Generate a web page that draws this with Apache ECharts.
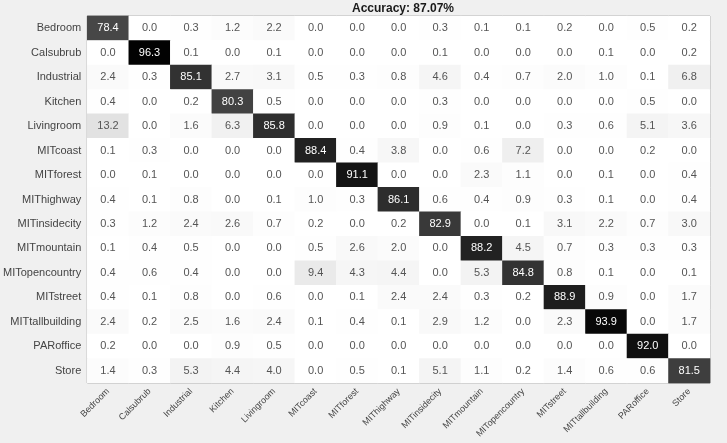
<!DOCTYPE html>
<html>
<head>
<meta charset="utf-8">
<script src="https://cdn.jsdelivr.net/npm/echarts@6/dist/echarts.min.js"></script>
<style>
html,body{margin:0;padding:0;background:#f0f0f0;}
#chart{width:727px;height:443px;}
</style>
</head>
<body>
<div id="chart"></div>
<script>
const categories = ["Bedroom","Calsubrub","Industrial","Kitchen","Livingroom","MITcoast","MITforest","MIThighway","MITinsidecity","MITmountain","MITopencountry","MITstreet","MITtallbuilding","PARoffice","Store"];
const titleText = "Accuracy: 87.07%";

const rowBedroom        = [78.4, 0.0, 0.3, 1.2, 2.2, 0.0, 0.0, 0.0, 0.3, 0.1, 0.1, 0.2, 0.0, 0.5, 0.2];
const rowCalsubrub      = [0.0, 96.3, 0.1, 0.0, 0.1, 0.0, 0.0, 0.0, 0.1, 0.0, 0.0, 0.0, 0.1, 0.0, 0.2];
const rowIndustrial     = [2.4, 0.3, 85.1, 2.7, 3.1, 0.5, 0.3, 0.8, 4.6, 0.4, 0.7, 2.0, 1.0, 0.1, 6.8];
const rowKitchen        = [0.4, 0.0, 0.2, 80.3, 0.5, 0.0, 0.0, 0.0, 0.3, 0.0, 0.0, 0.0, 0.0, 0.5, 0.0];
const rowLivingroom     = [13.2, 0.0, 1.6, 6.3, 85.8, 0.0, 0.0, 0.0, 0.9, 0.1, 0.0, 0.3, 0.6, 5.1, 3.6];
const rowMITcoast       = [0.1, 0.3, 0.0, 0.0, 0.0, 88.4, 0.4, 3.8, 0.0, 0.6, 7.2, 0.0, 0.0, 0.2, 0.0];
const rowMITforest      = [0.0, 0.1, 0.0, 0.0, 0.0, 0.0, 91.1, 0.0, 0.0, 2.3, 1.1, 0.0, 0.1, 0.0, 0.4];
const rowMIThighway     = [0.4, 0.1, 0.8, 0.0, 0.1, 1.0, 0.3, 86.1, 0.6, 0.4, 0.9, 0.3, 0.1, 0.0, 0.4];
const rowMITinsidecity  = [0.3, 1.2, 2.4, 2.6, 0.7, 0.2, 0.0, 0.2, 82.9, 0.0, 0.1, 3.1, 2.2, 0.7, 3.0];
const rowMITmountain    = [0.1, 0.4, 0.5, 0.0, 0.0, 0.5, 2.6, 2.0, 0.0, 88.2, 4.5, 0.7, 0.3, 0.3, 0.3];
const rowMITopencountry = [0.4, 0.6, 0.4, 0.0, 0.0, 9.4, 4.3, 4.4, 0.0, 5.3, 84.8, 0.8, 0.1, 0.0, 0.1];
const rowMITstreet      = [0.4, 0.1, 0.8, 0.0, 0.6, 0.0, 0.1, 2.4, 2.4, 0.3, 0.2, 88.9, 0.9, 0.0, 1.7];
const rowMITtallbuilding= [2.4, 0.2, 2.5, 1.6, 2.4, 0.1, 0.4, 0.1, 2.9, 1.2, 0.0, 2.3, 93.9, 0.0, 1.7];
const rowPARoffice      = [0.2, 0.0, 0.0, 0.9, 0.5, 0.0, 0.0, 0.0, 0.0, 0.0, 0.0, 0.0, 0.0, 92.0, 0.0];
const rowStore          = [1.4, 0.3, 5.3, 4.4, 4.0, 0.0, 0.5, 0.1, 5.1, 1.1, 0.2, 1.4, 0.6, 0.6, 81.5];

const matrix = [rowBedroom,rowCalsubrub,rowIndustrial,rowKitchen,rowLivingroom,rowMITcoast,rowMITforest,rowMIThighway,rowMITinsidecity,rowMITmountain,rowMITopencountry,rowMITstreet,rowMITtallbuilding,rowPARoffice,rowStore];

const data = [];
matrix.forEach((row, y) => {
  row.forEach((v, x) => {
    data.push({value: [x, y, v], label: {color: v > 50 ? '#ffffff' : '#555555'}});
  });
});

// grey ramp stops every 5 units from 0 to 100
const greyLevels = [255,244,233,222,210,198,186,174,162,150,138,126,114,102,90,79,67,50,25,3,0];
const greyColors = greyLevels.map(g => 'rgb(' + g + ',' + g + ',' + g + ')');

const chart = echarts.init(document.getElementById('chart'), null, {renderer: 'canvas'});
chart.setOption({
  backgroundColor: '#f0f0f0',
  animation: false,
  textStyle: {fontFamily: 'Liberation Sans, Arial, sans-serif'},
  title: {
    text: titleText,
    left: 398, top: -2,
    textAlign: 'center',
    textStyle: {fontSize: 12, fontWeight: 'bold', color: '#1a1a1a', fontFamily: 'Liberation Sans, Arial, sans-serif'}
  },
  grid: {
    left: 86, right: 17, top: 16, bottom: 60,
    show: true, backgroundColor: '#ffffff', borderColor: '#9a9a9a', borderWidth: 1
  },
  xAxis: {
    type: 'category',
    data: categories,
    axisLine: {show: false},
    axisTick: {show: false},
    splitLine: {show: false},
    axisLabel: {rotate: 45, interval: 0, fontSize: 9, color: '#444', margin: 7}
  },
  yAxis: {
    type: 'category',
    data: categories,
    inverse: true,
    axisLine: {show: false},
    axisTick: {show: false},
    splitLine: {show: false},
    axisLabel: {interval: 0, fontSize: 11, color: '#444', margin: 6}
  },
  visualMap: {
    show: false,
    type: 'continuous',
    min: 0, max: 100,
    dimension: 2,
    inRange: {color: greyColors}
  },
  series: [{
    type: 'heatmap',
    data: data,
    label: {
      show: true,
      fontSize: 11,
      formatter: p => p.value[2].toFixed(1)
    },
    itemStyle: {borderWidth: 0},
    emphasis: {disabled: true}
  }]
});
</script>
</body>
</html>
